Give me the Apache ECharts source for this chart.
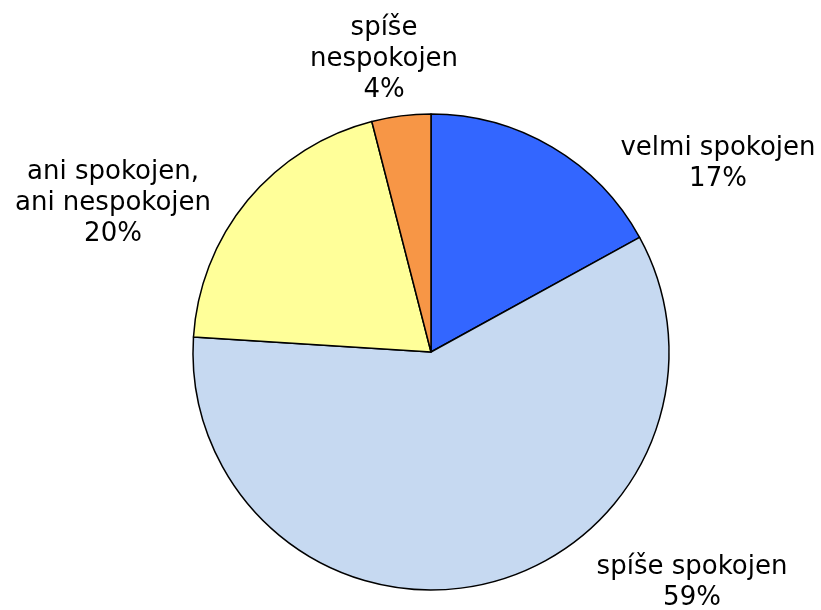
<!DOCTYPE html>
<html><head><meta charset="utf-8">
<script src="https://cdn.jsdelivr.net/npm/echarts@6/dist/echarts.min.js"></script>
<style>html,body{margin:0;padding:0;background:#fff}#c{width:821px;height:610px}</style>
</head><body><div id="c"></div>
<script>
const categories = ['velmi spokojen', 'spíše spokojen', 'ani spokojen,\nani nespokojen', 'spíše\nnespokojen'];
const values = [17, 59, 20, 4];
const colors = ['#3366FF', '#C6D9F1', '#FFFF99', '#F79646'];
const labelPos = [[718, 164], [692, 583], [113, 203], [384, 59]];

const chart = echarts.init(document.getElementById('c'), null, {renderer: 'canvas'});
chart.setOption({
  animation: false,
  series: [{
    type: 'pie',
    center: [431, 352],
    radius: [0, 238],
    startAngle: 90,
    clockwise: true,
    data: categories.map((n, i) => ({name: n, value: values[i], itemStyle: {color: colors[i]}})),
    itemStyle: {borderColor: '#000', borderWidth: 1.5},
    emphasis: {disabled: true},
    label: {
      show: true,
      position: 'outside',
      formatter: p => p.name + '\n' + Math.round(p.percent) + '%',
      fontFamily: 'DejaVu Sans',
      fontSize: 26,
      lineHeight: 31,
      color: '#000',
      align: 'center',
      overflow: 'none'
    },
    labelLine: {show: false},
    labelLayout: p => ({x: labelPos[p.dataIndex][0], y: labelPos[p.dataIndex][1], align: 'center', verticalAlign: 'middle'})
  }]
});
</script></body></html>
